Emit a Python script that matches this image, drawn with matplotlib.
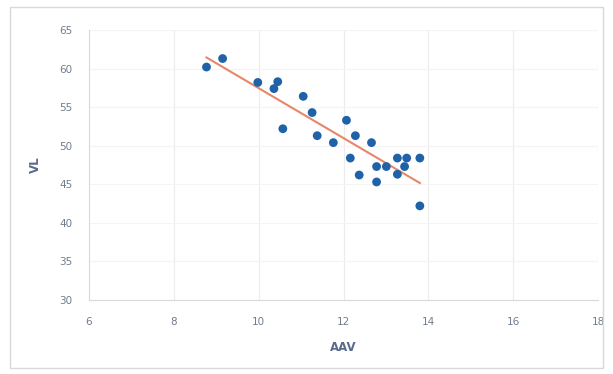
import numpy as np
import matplotlib
matplotlib.use("Agg")
import matplotlib.pyplot as plt
from matplotlib.patches import Rectangle

aav = [8.77, 9.15, 9.98, 10.36, 10.45, 10.57, 11.05, 11.26, 11.38, 11.76,
       12.07, 12.16, 12.28, 12.37, 12.66, 12.78, 12.78, 13.01, 13.27, 13.27,
       13.49, 13.44, 13.80, 13.80]
vl = [60.2, 61.3, 58.2, 57.4, 58.3, 52.2, 56.4, 54.3, 51.3, 50.4,
      53.3, 48.4, 51.3, 46.2, 50.4, 45.3, 47.3, 47.3, 48.4, 46.3,
      48.4, 47.3, 48.4, 42.2]
x_ticks = [6, 8, 10, 12, 14, 16, 18]
y_ticks = [30, 35, 40, 45, 50, 55, 60, 65]

fig = plt.figure(figsize=(6.13, 3.74), dpi=100)
fig.patch.set_facecolor("white")
fig.patches.append(Rectangle((10/613, 1-368/374), 593/613, 361/374,
                             transform=fig.transFigure, fill=False,
                             edgecolor="#d9d9d9", lw=1))
ax = fig.add_axes([89/613, 1-300/374, 509/613, 270/374])

for t in x_ticks[1:]:
    ax.axvline(t, color="#ececec", lw=0.8, zorder=0)
for t in y_ticks[1:]:
    ax.axhline(t, color="#f4f4f4", lw=0.8, zorder=0)

ax.scatter(aav, vl, s=40, color="#1f62a8", zorder=3, edgecolors="none")
coef = np.polyfit(aav, vl, 1)
xs = np.array([min(aav), max(aav)])
ax.plot(xs, np.polyval(coef, xs), color="#e8866a", lw=1.5, zorder=2)

ax.set_xlim(6, 18)
ax.set_ylim(30, 65)
ax.set_xticks(x_ticks)
ax.set_yticks(y_ticks)
ax.tick_params(length=0, labelsize=7.5, colors="#707c8c", pad=12)
for s in ["top", "right"]:
    ax.spines[s].set_visible(False)
ax.spines["left"].set_color("#d9d9d9")
ax.spines["bottom"].set_color("#d9d9d9")
ax.set_xlabel("AAV", fontsize=8.5, color="#5a6a8c", fontweight="bold", labelpad=10)
ax.set_ylabel("VL", fontsize=8.5, color="#5a6a8c", fontweight="bold", labelpad=12)

fig.savefig("out.png", dpi=100)
